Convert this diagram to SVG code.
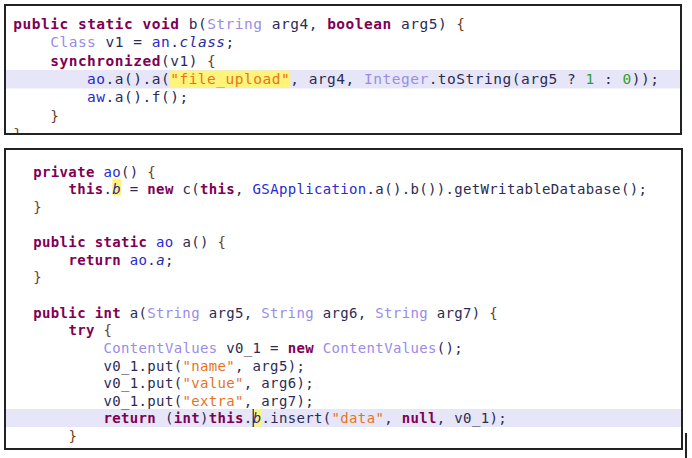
<svg xmlns="http://www.w3.org/2000/svg" width="692" height="458" viewBox="0 0 692 458">
<defs>
<style>
text{font-family:"DejaVu Sans Mono","Liberation Mono",monospace;white-space:pre;fill:#2b2b55}
.t1{font-size:14.5px;letter-spacing:0.5px}
.t2{font-size:14px;letter-spacing:0.34px}
.k{fill:#7f0055;font-weight:bold}
.ty{fill:#9a8ce6}
.f{fill:#2a2ad0}
.i{fill:#2a2a9a;font-style:italic}
.s{fill:#e8731a}
.n{fill:#2e9e2e}
.br{fill:#6b4226}
.band{fill:#e6e6f8}
.hl{fill:#fff47a}
.box{fill:none;stroke:#222;stroke-width:2}
</style>
<clipPath id="clipTop"><rect x="0" y="0" width="692" height="134"/></clipPath>
</defs>
<rect width="692" height="458" fill="#fff"/>

<g id="panel-top">
<rect class="band" x="6" y="70" width="674" height="18.5"/>
<rect class="hl" x="170.2" y="70.5" width="120" height="17.5"/>
<text class="t1" x="13.3" y="28.8"><tspan class="k">public static void</tspan> b(<tspan class="ty">String</tspan> arg4, <tspan class="k">boolean</tspan> arg5) <tspan class="br">{</tspan></text>
<text class="t1" x="50.2" y="47.2"><tspan class="ty">Class</tspan> v1 = <tspan class="f">an</tspan>.<tspan class="i">class</tspan>;</text>
<text class="t1" x="50.2" y="65.5"><tspan class="k">synchronized</tspan>(v1) <tspan class="br">{</tspan></text>
<text class="t1" x="87.1" y="83.9"><tspan class="f">ao</tspan>.a().a(<tspan class="s">"file_upload"</tspan>, arg4, <tspan class="ty">Integer</tspan>.toString(arg5 ? <tspan class="n">1</tspan> : <tspan class="n">0</tspan>));</text>
<text class="t1" x="87.1" y="102.2"><tspan class="f">aw</tspan>.a().f();</text>
<text class="t1" x="50.2" y="120.6"><tspan class="br">}</tspan></text>
<text class="t1 br" x="13.3" y="139" clip-path="url(#clipTop)">}</text>
<rect class="box" x="5" y="5" width="676" height="129"/>
</g>

<g id="panel-bottom">
<rect class="band" x="6" y="409" width="675" height="18"/>
<rect class="hl" x="112.3" y="178.5" width="8.8" height="17"/>
<rect class="hl" x="252.6" y="409.5" width="8.8" height="17"/>
<text class="t2" x="33.3" y="176.7"><tspan class="k">private</tspan> <tspan class="f">ao</tspan>() <tspan class="br">{</tspan></text>
<text class="t2" x="68.4" y="194.3"><tspan class="k">this</tspan>.<tspan class="i">b</tspan> = <tspan class="k">new</tspan> c(<tspan class="k">this</tspan>, <tspan class="f">GSApplication</tspan>.a().b()).getWritableDatabase();</text>
<text class="t2" x="33.3" y="211.9"><tspan class="br">}</tspan></text>
<text class="t2" x="33.3" y="247.2"><tspan class="k">public static</tspan> <tspan class="f">ao</tspan> a() <tspan class="br">{</tspan></text>
<text class="t2" x="68.4" y="264.8"><tspan class="k">return</tspan> <tspan class="f">ao</tspan>.<tspan class="i">a</tspan>;</text>
<text class="t2" x="33.3" y="282.4"><tspan class="br">}</tspan></text>
<text class="t2" x="33.3" y="317.7"><tspan class="k">public int</tspan> a(<tspan class="ty">String</tspan> arg5, <tspan class="ty">String</tspan> arg6, <tspan class="ty">String</tspan> arg7) <tspan class="br">{</tspan></text>
<text class="t2" x="68.4" y="335.3"><tspan class="k">try</tspan> <tspan class="br">{</tspan></text>
<text class="t2" x="103.5" y="352.9"><tspan class="ty">ContentValues</tspan> v0_1 = <tspan class="k">new</tspan> <tspan class="ty">ContentValues</tspan>();</text>
<text class="t2" x="103.5" y="370.5">v0_1.put(<tspan class="s">"name"</tspan>, arg5);</text>
<text class="t2" x="103.5" y="388.1">v0_1.put(<tspan class="s">"value"</tspan>, arg6);</text>
<text class="t2" x="103.5" y="405.7">v0_1.put(<tspan class="s">"extra"</tspan>, arg7);</text>
<text class="t2" x="103.5" y="423.4"><tspan class="k">return</tspan> (<tspan class="k">int</tspan>)<tspan class="k">this</tspan>.<tspan class="i">b</tspan>.insert(<tspan class="s">"data"</tspan>, <tspan class="k">null</tspan>, v0_1);</text>
<text class="t2" x="68.4" y="441"><tspan class="br">}</tspan></text>
<line x1="253.2" y1="409" x2="253.2" y2="427" stroke="#000" stroke-width="1"/>
<rect class="box" x="5" y="149" width="677" height="300"/>
<line x1="686" y1="433" x2="686" y2="458" stroke="#222" stroke-width="2"/>
</g>
</svg>
